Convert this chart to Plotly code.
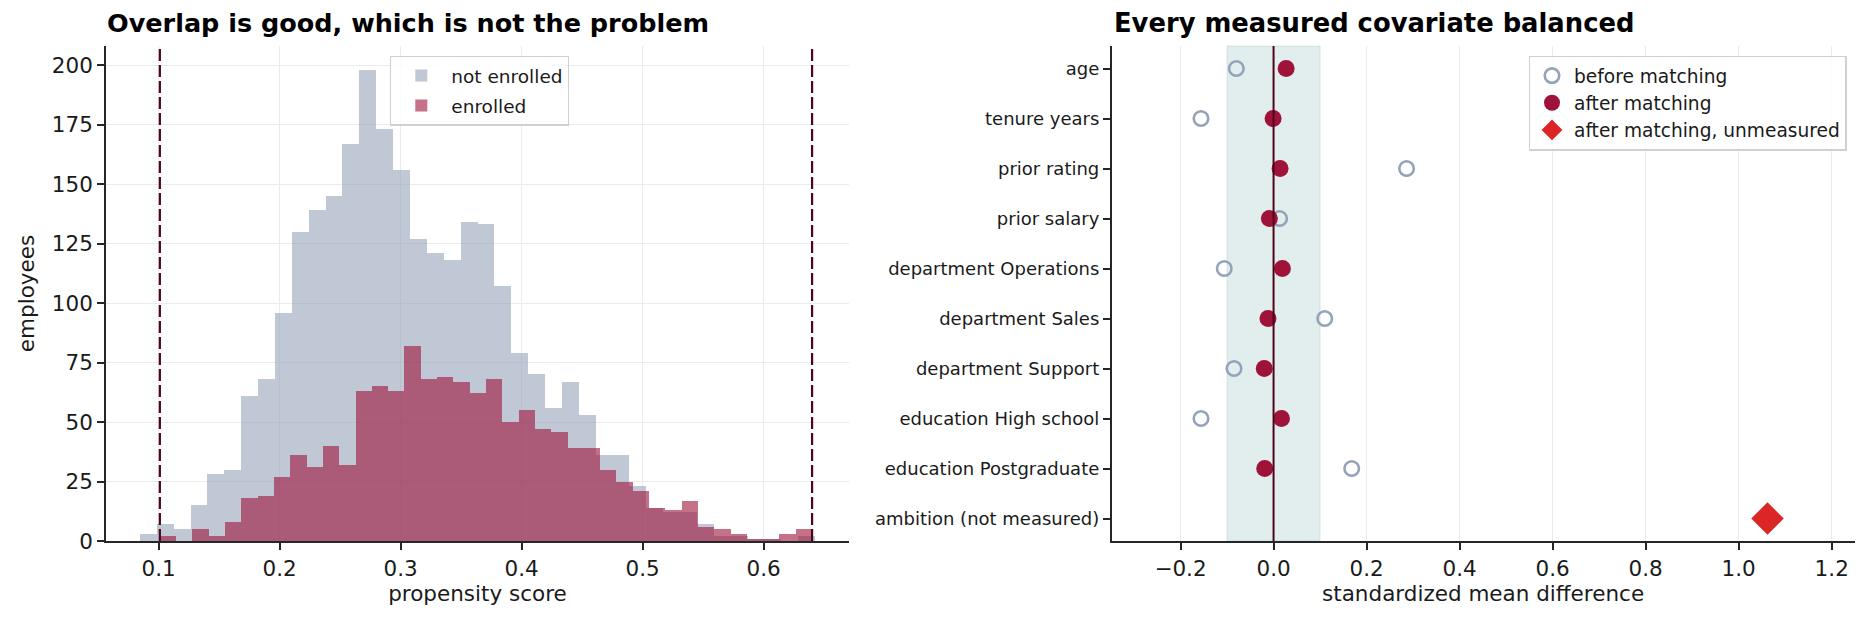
import plotly.graph_objects as go

# ---------------- data ----------------
# left panel: propensity score histograms (40 bins each)
not_enrolled_range = (0.0845, 0.6425)
not_enrolled_counts = [3, 7, 5, 15, 28, 30, 61, 68, 96, 130,
                       139, 145, 167, 198, 173, 156, 127, 121, 118, 134,
                       133, 107, 79, 70, 56, 67, 53, 36, 36, 23,
                       14, 12, 12, 7, 2, 2, 1, 1, 0, 2]
enrolled_range = (0.101, 0.640)
enrolled_counts = [2, 0, 5, 2, 8, 18, 19, 27, 36, 31,
                   40, 32, 63, 65, 63, 82, 68, 69, 67, 62,
                   68, 50, 55, 47, 46, 39, 39, 30, 25, 21,
                   14, 13, 17, 6, 5, 3, 1, 1, 3, 5]
support_bounds = [0.101, 0.640]

# right panel: standardized mean differences
covariates = ["age", "tenure years", "prior rating", "prior salary",
              "department Operations", "department Sales", "department Support",
              "education High school", "education Postgraduate"]
smd_before = [-0.080, -0.156, 0.286, 0.013, -0.106, 0.110, -0.085, -0.156, 0.168]
smd_after = [0.027, -0.001, 0.014, -0.009, 0.019, -0.012, -0.020, 0.017, -0.019]
unmeasured_label = ["ambition (not measured)"]
unmeasured_after = [1.062]
balance_threshold = 0.1

# ---------------- style ----------------
OFF = 8                 # page body margin of the html page
W, H = 1860, 615
FONT = "DejaVu Sans"
TXT = "#1a1a1a"
SPINE = "#262626"
GRID = "#ebebeb"
GREY = "#94a3b8"
GREY_A = "rgba(148,163,184,0.6)"
ROSE = "#9f1239"
ROSE_A = "rgba(159,18,57,0.6)"
RED = "#dc2626"
DARK = "#4c0519"


def px_x(p):
    return (p - OFF) / W


def px_y(p):
    return 1 - (p - OFF) / H


def bins(rng, counts):
    n = len(counts)
    w = (rng[1] - rng[0]) / n
    centers = [rng[0] + w * (i + 0.5) for i in range(n)]
    return centers, w


fig = go.Figure()

c_ne, w_ne = bins(not_enrolled_range, not_enrolled_counts)
c_en, w_en = bins(enrolled_range, enrolled_counts)

fig.add_trace(go.Bar(x=c_ne, y=not_enrolled_counts, width=w_ne, name="not enrolled",
                     marker=dict(color=GREY_A, line=dict(width=0)),
                     xaxis="x", yaxis="y", legend="legend", legendgroup="a"))
fig.add_trace(go.Bar(x=c_en, y=enrolled_counts, width=w_en, name="enrolled",
                     marker=dict(color=ROSE_A, line=dict(width=0)),
                     xaxis="x", yaxis="y", legend="legend", legendgroup="b"))

fig.add_trace(go.Scatter(x=smd_before, y=covariates, mode="markers", name="before matching",
                         marker=dict(symbol="circle-open", size=14.5, color=GREY,
                                     line=dict(width=2.6, color=GREY)),
                         xaxis="x2", yaxis="y2", legend="legend2", legendgroup="c"))
fig.add_trace(go.Scatter(x=smd_after, y=covariates, mode="markers", name="after matching",
                         marker=dict(symbol="circle", size=17, color=ROSE, line=dict(width=0)),
                         xaxis="x2", yaxis="y2", legend="legend2", legendgroup="d"))
fig.add_trace(go.Scatter(x=unmeasured_after, y=unmeasured_label, mode="markers",
                         name="after matching, unmeasured",
                         marker=dict(symbol="diamond", size=25, color=RED, line=dict(width=0)),
                         xaxis="x2", yaxis="y2", legend="legend2", legendgroup="e"))

shapes = []
for b in support_bounds:
    shapes.append(dict(type="line", xref="x", yref="y domain", x0=b, x1=b, y0=0, y1=1,
                       line=dict(color=DARK, width=2.2, dash="12px,4px"), layer="above"))
shapes.append(dict(type="rect", xref="x2", yref="y2 domain", x0=-balance_threshold,
                   x1=balance_threshold, y0=0, y1=1, fillcolor="rgba(15,118,110,0.12)",
                   line=dict(color="rgba(15,118,110,0.14)", width=1), layer="below"))
shapes.append(dict(type="line", xref="x2", yref="y2 domain", x0=0, x1=0, y0=0, y1=1,
                   line=dict(color=DARK, width=2), layer="above"))

axis_common = dict(showline=True, linecolor=SPINE, linewidth=1.6, ticks="outside",
                   ticklen=7, tickwidth=1.6, tickcolor=SPINE, zeroline=False, mirror=False)
tickfont_num = dict(family=FONT, size=21.5, color=TXT)
title_font = dict(family=FONT, size=21.5, color=TXT)

left_dom = [px_x(106), px_x(849)]
right_dom = [px_x(1111.7), px_x(1854.5)]
ydom = [px_y(541), px_y(46)]

legend_common = dict(yanchor="top", xanchor="right", bgcolor="rgba(255,255,255,0.85)",
                     bordercolor="#d0d0d0", borderwidth=1.3)

fig.update_layout(
    width=W, height=H,
    margin=dict(l=0, r=0, t=0, b=0, autoexpand=False),
    paper_bgcolor="white", plot_bgcolor="white",
    font=dict(family=FONT, color=TXT),
    barmode="overlay", bargap=0,
    showlegend=True,
    xaxis=dict(domain=left_dom, anchor="y", range=[0.0565, 0.6705],
               tickvals=[0.1, 0.2, 0.3, 0.4, 0.5, 0.6], tickformat=".1f",
               showgrid=True, gridcolor=GRID, gridwidth=1.3, tickfont=tickfont_num,
               title=dict(text="propensity score", font=title_font, standoff=6),
               **axis_common),
    yaxis=dict(domain=ydom, anchor="x", range=[0, 208], tick0=0, dtick=25,
               showgrid=True, gridcolor=GRID, gridwidth=1.3, tickfont=tickfont_num,
               title=dict(text="employees", font=title_font, standoff=11),
               **axis_common),
    xaxis2=dict(domain=right_dom, anchor="y2", range=[-0.348, 1.249], tick0=0, dtick=0.2,
                tickformat=".1f", showgrid=True, gridcolor=GRID, gridwidth=1.3,
                tickfont=tickfont_num,
                title=dict(text="standardized mean difference", font=title_font, standoff=6),
                **axis_common),
    yaxis2=dict(domain=ydom, anchor="x2", type="category",
                categoryarray=covariates + unmeasured_label, categoryorder="array",
                range=[9.45, -0.45], showgrid=False,
                tickfont=dict(family=FONT, size=18, color=TXT), **axis_common),
    legend=dict(x=px_x(569), y=px_y(55.7), font=dict(family=FONT, size=18.5, color=TXT),
                itemwidth=50, tracegroupgap=3, **legend_common),
    legend2=dict(x=px_x(1846.7), y=px_y(55.7), font=dict(family=FONT, size=18.6, color=TXT),
                 itemwidth=34, tracegroupgap=0, **legend_common),
    shapes=shapes,
    annotations=[
        dict(text="<b>Overlap is good, which is not the problem</b>", xref="paper", yref="paper",
             x=px_x(105), y=px_y(40.5), xanchor="left", yanchor="bottom", showarrow=False,
             font=dict(family=FONT, size=25.5, color="#000")),
        dict(text="<b>Every measured covariate balanced</b>", xref="paper", yref="paper",
             x=px_x(1112), y=px_y(40.5), xanchor="left", yanchor="bottom", showarrow=False,
             font=dict(family=FONT, size=25.8, color="#000")),
    ],
)

fig.write_html("out.html")
